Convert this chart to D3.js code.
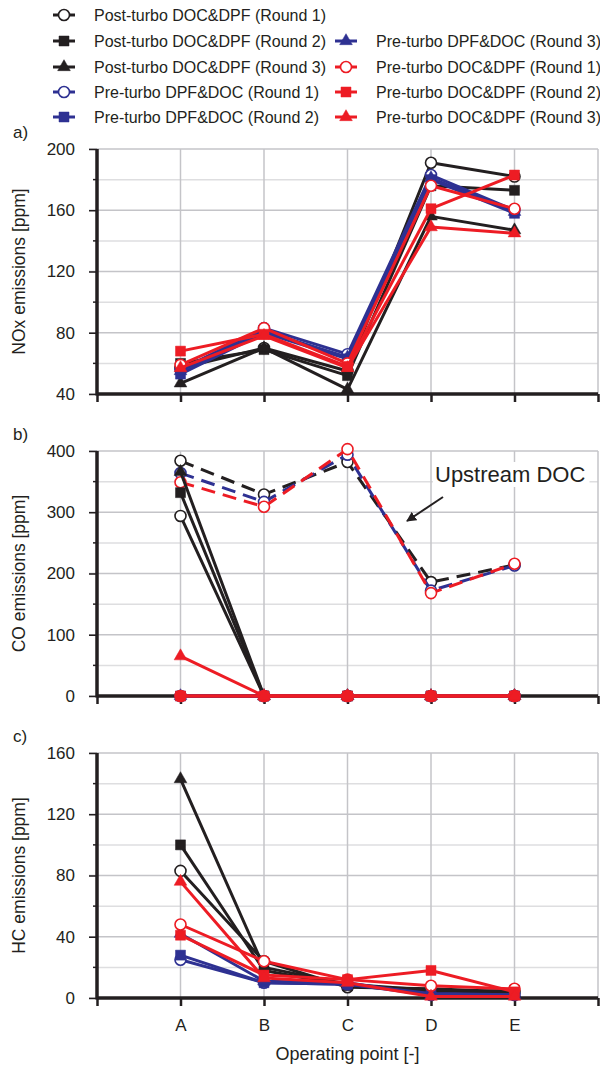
<!DOCTYPE html>
<html>
<head>
<meta charset="utf-8">
<script src="https://cdn.jsdelivr.net/npm/d3@7"></script>
<style>
  body { margin: 0; background: #fff; }
  text { font-family: "Liberation Sans", Arial, sans-serif; fill: #231f20; }
</style>
</head>
<body>
<div id="chart-container"></div>
<script>
// operating points and series, in legend order
const categories = ['A', 'B', 'C', 'D', 'E']
const seriesNames = [
  'Post-turbo DOC&DPF (Round 1)',
  'Post-turbo DOC&DPF (Round 2)',
  'Post-turbo DOC&DPF (Round 3)',
  'Pre-turbo DPF&DOC (Round 1)',
  'Pre-turbo DPF&DOC (Round 2)',
  'Pre-turbo DPF&DOC (Round 3)',
  'Pre-turbo DOC&DPF (Round 1)',
  'Pre-turbo DOC&DPF (Round 2)',
  'Pre-turbo DOC&DPF (Round 3)'
]
const seriesColors = ['#231f20', '#231f20', '#231f20', '#2e3192', '#2e3192', '#2e3192', '#ed1c24', '#ed1c24', '#ed1c24']
const seriesShapes = ['circle', 'square', 'triangle', 'circle', 'square', 'triangle', 'circle', 'square', 'triangle']

// a) NOx [ppm]
const noxValues = [
  [57, 70, 55, 191, 182],
  [60, 69, 52, 176, 173],
  [47, 70, 43, 156, 147],
  [56, 83, 66, 183, 160],
  [53, 80, 63, 180, 158],
  [55, 81, 64, 181, 159],
  [59, 83, 60, 176, 161],
  [68, 79, 58, 161, 183],
  [57, 78, 57, 149, 145]
]
// b) CO [ppm]
const coValues = [
  [294, 0, 0, 0, 0],
  [332, 0, 0, 0, 0],
  [366, 0, 0, 0, 0],
  [0, 0, 0, 0, 0],
  [0, 0, 0, 0, 0],
  [0, 0, 0, 0, 0],
  [0, 0, 0, 0, 0],
  [0, 0, 0, 0, 0],
  [65, 0, 0, 0, 0]
]
// b) CO upstream DOC (dashed), for series 0, 3, 6
const coUpstreamSeries = [0, 3, 6]
const coUpstreamValues = [
  [384, 329, 382, 186, 214],
  [364, 317, 394, 172, 213],
  [349, 309, 403, 168, 216]
]
// c) HC [ppm]
const hcValues = [
  [83, 24, 7, 6, 4],
  [100, 18, 8, 4, 5],
  [143, 20, 9, 5, 3],
  [25, 10, 9, 2, 2],
  [28, 10, 9, 3, 2],
  [42, 11, 10, 2, 2],
  [48, 24, 12, 8, 6],
  [41, 15, 12, 18, 4],
  [76, 13, 10, 1, 1]
]

const noxTicks = [40, 80, 120, 160, 200]
const coTicks = [0, 100, 200, 300, 400]
const hcTicks = [0, 40, 80, 120, 160]

const width = 600
const height = 1067
const marginLeft = 97
const plotRight = 598
const panelHeight = 245

const svg = d3.select('#chart-container')
  .append('svg')
  .attr('width', width)
  .attr('height', height)

const xScale = d3.scaleLinear()
  .domain([0, categories.length + 1])
  .range([marginLeft, plotRight])

const symbolFor = {
  circle: d3.symbol().type(d3.symbolCircle).size(95),
  square: d3.symbol().type(d3.symbolSquare).size(100),
  triangle: d3.symbol().type(d3.symbolTriangle).size(70)
}

function drawMarker (g, x, y, i) {
  const shape = seriesShapes[i]
  g.append('path')
    .attr('d', symbolFor[shape]())
    .attr('transform', 'translate(' + x + ',' + y + ')')
    .attr('fill', shape === 'circle' ? '#fff' : seriesColors[i])
    .attr('stroke', seriesColors[i])
    .attr('stroke-width', shape === 'circle' ? 1.6 : 0.5)
}

function drawPanel (opts) {
  const top = opts.top
  const bottom = top + panelHeight
  const ticks = opts.ticks
  const step = ticks[1] - ticks[0]
  const minor = ticks.slice(0, -1).map(t => t + step / 2)
  const yScale = d3.scaleLinear()
    .domain([ticks[0], ticks[ticks.length - 1]])
    .range([bottom, top])

  const g = svg.append('g')

  // gridlines
  g.append('g').selectAll('line')
    .data(minor)
    .join('line')
    .attr('x1', marginLeft).attr('x2', plotRight)
    .attr('y1', d => yScale(d)).attr('y2', d => yScale(d))
    .attr('stroke', '#dedee0').attr('stroke-width', 1.5)
  g.append('g').selectAll('line')
    .data(ticks)
    .join('line')
    .attr('x1', marginLeft - 8).attr('x2', plotRight)
    .attr('y1', d => yScale(d)).attr('y2', d => yScale(d))
    .attr('stroke', '#c4c4c8').attr('stroke-width', 1.5)
  g.append('g').selectAll('line')
    .data(d3.range(1, categories.length + 2))
    .join('line')
    .attr('x1', d => xScale(d)).attr('x2', d => xScale(d))
    .attr('y1', top).attr('y2', bottom)
    .attr('stroke', '#c4c4c8').attr('stroke-width', 1.5)

  if (opts.annotation) opts.annotation(g, yScale)

  // y axis
  const yAxis = d3.axisLeft(yScale)
    .tickValues(ticks)
    .tickSize(8)
    .tickPadding(14)
  const ya = g.append('g')
    .attr('transform', 'translate(' + marginLeft + ',0)')
    .call(yAxis)
  ya.select('.domain').remove()
  ya.selectAll('line').attr('stroke', '#231f20').attr('stroke-width', 1.5)
  ya.selectAll('text').style('font-size', '17px').attr('fill', '#231f20')
  g.append('g').selectAll('line')
    .data(minor)
    .join('line')
    .attr('x1', marginLeft - 4).attr('x2', marginLeft)
    .attr('y1', d => yScale(d)).attr('y2', d => yScale(d))
    .attr('stroke', '#231f20').attr('stroke-width', 1.5)

  // x axis
  const xAxis = d3.axisBottom(xScale)
    .tickValues(d3.range(0, categories.length + 2))
    .tickSize(8)
    .tickPadding(13)
    .tickFormat(d => (opts.showX && d >= 1 && d <= categories.length) ? categories[d - 1] : '')
  const xa = g.append('g')
    .attr('transform', 'translate(0,' + bottom + ')')
    .call(xAxis)
  xa.select('.domain').remove()
  xa.selectAll('line').attr('stroke', '#231f20').attr('stroke-width', 2.5)
  xa.selectAll('text').style('font-size', '17px').attr('fill', '#231f20')

  g.append('line')
    .attr('x1', marginLeft).attr('x2', plotRight)
    .attr('y1', bottom).attr('y2', bottom)
    .attr('stroke', '#231f20').attr('stroke-width', 3.5)
  g.append('line')
    .attr('x1', marginLeft).attr('x2', marginLeft)
    .attr('y1', top).attr('y2', bottom + 1.5)
    .attr('stroke', '#231f20').attr('stroke-width', 3.5)

  // labels
  g.append('text')
    .attr('x', 13).attr('y', top - 11)
    .style('font-size', '17px')
    .text(opts.letter)
  g.append('text')
    .attr('transform', 'translate(25,' + (top + panelHeight / 2) + ') rotate(-90)')
    .attr('text-anchor', 'middle')
    .style('font-size', '17.5px')
    .text(opts.yLabel)

  const line = d3.line()
    .x((d, i) => xScale(i + 1))
    .y(d => yScale(d))

  // dashed upstream series
  if (opts.dashed) {
    opts.dashed.values.forEach((vals, k) => {
      const si = opts.dashed.series[k]
      g.append('path')
        .attr('d', line(vals))
        .attr('fill', 'none')
        .attr('stroke', seriesColors[si])
        .attr('stroke-width', 3)
        .attr('stroke-dasharray', '14,8')
      vals.forEach((v, i) => drawMarker(g, xScale(i + 1), yScale(v), si))
    })
  }

  opts.values.forEach((vals, si) => {
    g.append('path')
      .attr('d', line(vals))
      .attr('fill', 'none')
      .attr('stroke', seriesColors[si])
      .attr('stroke-width', 3)
      .attr('stroke-linejoin', 'round')
    vals.forEach((v, i) => drawMarker(g, xScale(i + 1), yScale(v), si))
  })
}

drawPanel({ top: 149, ticks: noxTicks, values: noxValues, letter: 'a)', yLabel: 'NOx emissions [ppm]' })
drawPanel({
  top: 451,
  ticks: coTicks,
  values: coValues,
  dashed: { series: coUpstreamSeries, values: coUpstreamValues },
  letter: 'b)',
  yLabel: 'CO emissions [ppm]',
  annotation: (g, yScale) => {
    const t = g.append('text')
      .attr('x', 435).attr('y', 482)
      .style('font-size', '22px')
      .text('Upstream DOC')
    const bb = t.node().getBBox()
    g.insert('rect', 'text')
      .attr('x', bb.x - 2).attr('y', bb.y)
      .attr('width', bb.width + 6).attr('height', bb.height)
      .attr('fill', '#fff')
    g.append('defs').append('marker')
      .attr('id', 'arrow')
      .attr('viewBox', '0 0 10 10')
      .attr('refX', 9).attr('refY', 5)
      .attr('markerWidth', 5).attr('markerHeight', 5)
      .attr('orient', 'auto')
      .append('path')
      .attr('d', 'M0,0L10,5L0,10z')
      .attr('fill', '#231f20')
    g.append('line')
      .attr('x1', 443).attr('y1', 497)
      .attr('x2', 407).attr('y2', 521)
      .attr('stroke', '#231f20')
      .attr('stroke-width', 2)
      .attr('marker-end', 'url(#arrow)')
  }
})
drawPanel({ top: 753, ticks: hcTicks, values: hcValues, letter: 'c)', yLabel: 'HC emissions [ppm]', showX: true })

svg.append('text')
  .attr('x', (marginLeft + plotRight) / 2)
  .attr('y', 1060)
  .attr('text-anchor', 'middle')
  .style('font-size', '18px')
  .text('Operating point [-]')

// legend
const legendRows = [15, 41, 67, 92, 117]
const legendItems = seriesNames.map((name, i) => {
  const col = i < 5 ? 0 : 1
  const row = i < 5 ? i : i - 4
  return { name, i, col, row }
})
const legend = svg.append('g')
legendItems.forEach(d => {
  const x0 = d.col === 0 ? 53 : 335
  const y = legendRows[d.row]
  legend.append('line')
    .attr('x1', x0).attr('x2', x0 + 22)
    .attr('y1', y).attr('y2', y)
    .attr('stroke', seriesColors[d.i])
    .attr('stroke-width', 3)
  drawMarker(legend, x0 + 11, y, d.i)
  legend.append('text')
    .attr('x', d.col === 0 ? 94 : 376)
    .attr('y', y)
    .attr('dy', '0.36em')
    .style('font-size', '16px')
    .text(d.name)
})
</script>
</body>
</html>
